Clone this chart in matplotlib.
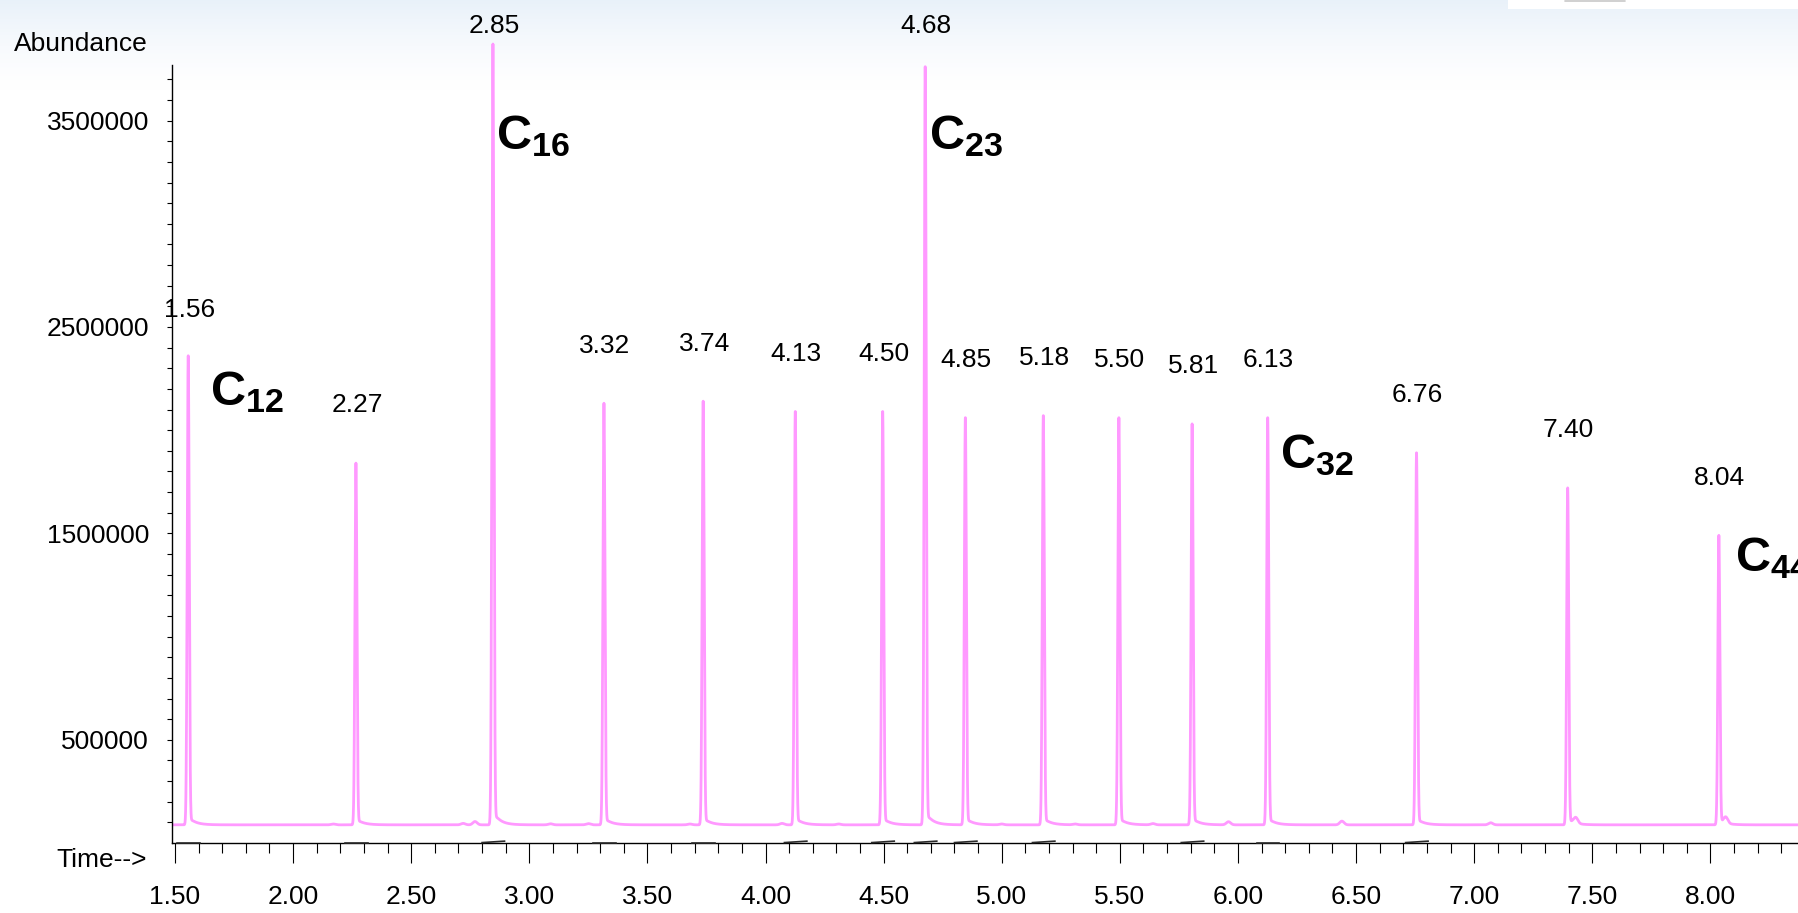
import numpy as np
import matplotlib
matplotlib.use("Agg")
import matplotlib.pyplot as plt
from matplotlib.patches import Rectangle
from matplotlib.ticker import MultipleLocator, FormatStrFormatter

plt.rcParams["font.family"] = ["Liberation Sans", "DejaVu Sans"]
plt.rcParams["mathtext.fontset"] = "custom"
plt.rcParams["mathtext.rm"] = "Liberation Sans"
plt.rcParams["mathtext.bf"] = "Liberation Sans:bold"
plt.rcParams["mathtext.it"] = "Liberation Sans:italic"

# ---------------- data ----------------
peak_times = [1.56, 2.27, 2.85, 3.32, 3.74, 4.13, 4.50, 4.68, 4.85,
              5.18, 5.50, 5.81, 6.13, 6.76, 7.40, 8.04]
peak_heights = [2360000, 1840000, 3870000, 2130000, 2140000, 2090000,
                2090000, 3760000, 2060000, 2070000, 2060000, 2030000,
                2060000, 1890000, 1720000, 1490000]
peak_labels = ["1.56", "2.27", "2.85", "3.32", "3.74", "4.13", "4.50",
               "4.68", "4.85", "5.18", "5.50", "5.81", "6.13", "6.76",
               "7.40", "8.04"]
small_times = [2.17, 2.72, 2.77, 3.09, 3.25, 3.68, 4.07, 4.31, 5.00,
               5.31, 5.64, 5.96, 6.44, 7.07, 7.43, 8.065]
small_heights = [4000, 7000, 16000, 5000, 6000, 4000, 7000, 4000, 4000,
                 4000, 6000, 15000, 18000, 10000, 28000, 30000]
baseline_level = 88000
alkane_numbers = ["12", "16", "23", "32", "44"]
marked_peaks = ["1.56", "2.27", "2.85", "3.32", "3.74", "4.13", "4.50",
                "4.68", "4.85", "5.18", "5.81", "6.13", "6.76"]
slanted_marks = ["2.85", "4.13", "4.50", "4.68", "4.85", "5.18", "5.81", "6.76"]

# ---------------- trace built from the peak list ----------------
t = np.arange(1.45, 8.40, 0.0004)
sig = 0.0042
y = np.full_like(t, float(baseline_level))
for tp, h in zip(peak_times, peak_heights):
    tc = tp - 0.004
    a = h - baseline_level
    y += a * np.exp(-0.5 * ((t - tc) / sig) ** 2)
    d = t - tc
    onset = 1.0 / (1.0 + np.exp(-(d - 2.5 * sig) / (0.6 * sig)))
    y += 0.018 * a * np.exp(-np.clip(d, 0, None) / 0.028) * onset
for tp, h in zip(small_times, small_heights):
    y += h * np.exp(-0.5 * ((t - tp) / 0.009) ** 2)

# ---------------- figure ----------------
W, H = 1798, 913
fig = plt.figure(figsize=(W / 100, H / 100), dpi=100)

bg = fig.add_axes([0, 0, 1, 1], zorder=-10)
bg.set_axis_off()
rows = np.arange(H)
f = np.clip(1 - rows / 90.0, 0, 1) ** 1.4
top = np.array([0.912, 0.945, 0.978])
grad = np.ones((H, 1, 3))
grad[:, 0, :] = 1 - f[:, None] * (1 - top)
bg.imshow(grad, aspect="auto", extent=[0, 1, 0, 1], origin="upper")
bg.add_patch(Rectangle((1508 / W, 1 - 9 / H), (W - 1508) / W, 9 / H,
                       facecolor="white", edgecolor="none",
                       transform=bg.transAxes))
bg.plot([1565 / W, 1625 / W], [1 - 1.0 / H, 1 - 1.0 / H], color="#c8c8c8",
        lw=1.2, transform=bg.transAxes, solid_capstyle="round")
bg.set_xlim(0, 1)
bg.set_ylim(0, 1)

ax = fig.add_axes([172 / W, 70 / H, 1 - 172 / W, 843 / H])
ax.set_facecolor("none")
ax.set_xlim(1.4873, 8.371)
ax.set_ylim(0, 4.0843e6)

ax.plot(t, y, color="#FF99FF", lw=2.0, solid_joinstyle="round")

# integration marks on the time axis
for lab, tp in zip(peak_labels, peak_times):
    if lab in marked_peaks:
        y2 = 9000 if lab in slanted_marks else 2000
        ax.plot([tp - 0.05, tp + 0.045], [2000, y2], color="#2a2a2a",
                lw=1.2, clip_on=False, zorder=5)

# retention time labels
for lab, tp, h in zip(peak_labels, peak_times, peak_heights):
    ly = min(h + 280000, 3960000)
    if lab == "1.56":
        ly -= 60000
    ax.text(tp, ly, lab, ha="center", va="center", fontsize=19, color="black")

# alkane labels
c_pos_x = [1.648, 2.860, 4.693, 6.180, 8.106]
c_pos_y = [2120000, 3360000, 3360000, 1816000, 1316000]
for num, cx, cy in zip(alkane_numbers, c_pos_x, c_pos_y):
    ax.text(cx, cy, r"$\mathbf{C_{%s}}$" % num, ha="left", va="baseline",
            fontsize=35, color="black", clip_on=False)

# spines / ticks
for s in ["top", "right"]:
    ax.spines[s].set_visible(False)
ax.spines["left"].set_bounds(0, 3.77e6)
ax.spines["left"].set_linewidth(1.0)
ax.spines["bottom"].set_linewidth(1.0)

ax.xaxis.set_major_locator(MultipleLocator(0.5))
ax.xaxis.set_minor_locator(MultipleLocator(0.1))
ax.xaxis.set_major_formatter(FormatStrFormatter("%.2f"))
ax.tick_params(axis="x", which="major", direction="out", length=14.4,
               width=0.8, pad=16, labelsize=19)
ax.tick_params(axis="x", which="minor", direction="out", length=7.2, width=0.8)

major_y = [500000, 1500000, 2500000, 3500000]
minor_y = [v for v in range(100000, 3800000, 100000) if v not in major_y]
ax.set_yticks(major_y)
ax.set_yticklabels([str(v) for v in major_y])
ax.set_yticks(minor_y, minor=True)
ax.tick_params(axis="y", which="both", direction="out", length=3.6,
               width=0.8, labelsize=19)
ax.tick_params(axis="y", which="major", pad=13)

fig.text(147 / W, 1 - 860 / H, "Time-->", ha="right", va="center", fontsize=19)
fig.text(14 / W, 1 - 44 / H, "Abundance", ha="left", va="center", fontsize=19)

fig.savefig("out.png", dpi=100)
